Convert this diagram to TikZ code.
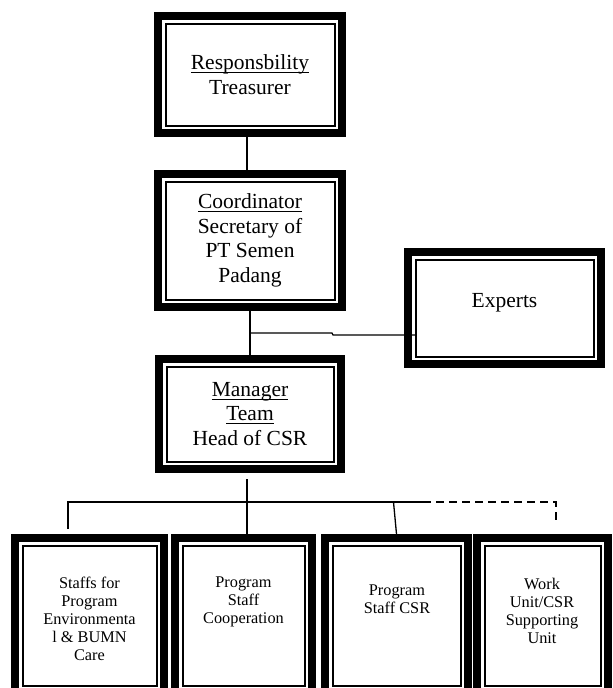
\documentclass[tikz,border=0pt]{standalone}
\usepackage{fontspec}
\setmainfont{Liberation Serif}
\newcommand{\uword}[1]{\setbox0\hbox{#1}\rlap{\rule[-3.2pt]{\wd0}{1pt}}\box0}

\begin{document}
\begin{tikzpicture}[x=1pt,y=-1pt,semithick]
  \tikzstyle{unit}=[draw,line width=8pt,outer sep=4pt,inner sep=0pt,align=center,font=\fontsize{21.5}{24.5}\selectfont]
  \tikzstyle{small}=[align=center,inner sep=0pt,font=\fontsize{16.3}{18}\selectfont]
  \tikzstyle{link}=[line width=1.3pt]

  \useasboundingbox (0,0) rectangle (613,688);

  \node[unit,minimum width=184pt,minimum height=117pt] (resp)  at (250,74.5)  {\uword{Responsbility}\\Treasurer};
  \node[unit,minimum width=184pt,minimum height=133pt] (coord) at (250,240.5) {\uword{Coordinator}\\Secretary of\\PT Semen\\Padang};
  \node[unit,minimum width=182pt,minimum height=110pt] (mgr)   at (250,414)   {\uword{Manager}\\\uword{Team}\\Head of CSR};
  \node[unit,minimum width=193pt,minimum height=112pt] (exp)   at (504.5,308) {};
  \node[unit,minimum width=149pt,minimum height=155pt] (env)   at (89.5,615.5)  {};
  \node[unit,minimum width=137pt,minimum height=155pt] (coop)  at (243.5,615.5) {};
  \node[unit,minimum width=143pt,minimum height=155pt] (prog)  at (396.5,615.5) {};
  \node[unit,minimum width=131pt,minimum height=155pt] (work)  at (542.5,615.5) {};

  % inner thin frames
  \foreach \n in {resp,coord,mgr,exp,env,coop,prog,work}
    \draw[line width=2pt] ([shift={(11.5pt,-11.5pt)}]\n.north west) rectangle ([shift={(-11.5pt,11.5pt)}]\n.south east);

  \node[anchor=base,font=\fontsize{21.5}{24.5}\selectfont] (exp-t) at (504.5,307) {Experts};
  \node[small,anchor=north] (env-t)  at (89.5,577)  {Staffs for\\Program\\Environmenta\\l \& BUMN\\Care};
  \node[small,anchor=north] (coop-t) at (243.5,577) {Program\\Staff\\Cooperation};
  \node[small,anchor=north] (prog-t) at (397,585)   {Program\\Staff CSR};
  \node[small,anchor=north] (work-t) at (542,578)   {Work\\Unit/CSR\\Supporting\\Unit};

  \coordinate (jn)      at (250,333);
  \coordinate (kink)    at (332,333);
  \coordinate (mdrop)   at ([xshift=-3pt,yshift=-6pt]mgr.south);
  \coordinate (busL)    at (68,502);
  \coordinate (busM)    at (423,502);
  \coordinate (busR)    at (556,502);
  \coordinate (envTop)  at (68,529);
  \coordinate (busEnd)  at (556,523);
  \coordinate (progTap) at (393.5,502);

  \draw[link] ([xshift=-3pt]resp.south) -- ([xshift=-3pt]coord.north);
  \draw[link] (coord) -- (mgr);
  \draw[link] (jn) -- (kink) -- ++(1,2) coordinate (kink2) -- (kink2 -| exp.west) -- ++(11.5,0);
  \draw[link] (mdrop) -- (mdrop |- coop.north);
  \draw[link] (envTop) -- (busL) -- (busM);
  \draw[link,dash pattern=on 8pt off 5pt] (busM) -- (busR) -- (busEnd);
  \draw[link] (progTap) -- (prog.north);
\end{tikzpicture}
\end{document}
